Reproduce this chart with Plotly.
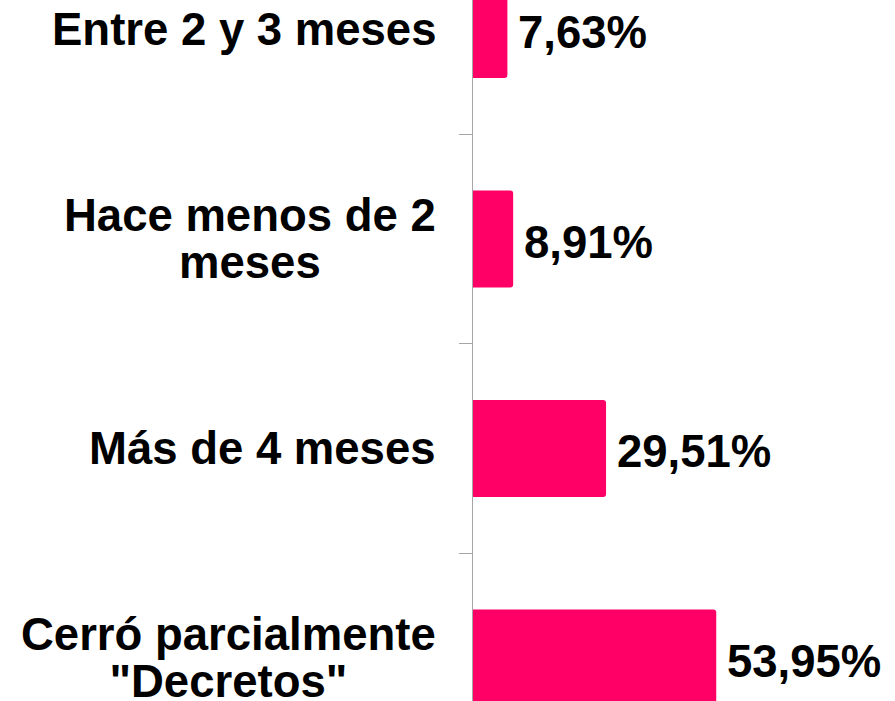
import plotly.graph_objects as go

# Data (bottom to top)
categories = [["Cerró parcialmente", "\"Decretos\""], ["Más de 4 meses"],
              ["Hace menos de 2", "meses"], ["Entre 2 y 3 meses"]]
values = [53.95, 29.51, 8.91, 7.63]
value_labels = ["53,95%", "29,51%", "8,91%", "7,63%"]

BAR_COLOR = "#FF0066"
AXIS_COLOR = "#A6A6A6"
FONT = "Liberation Sans, Arial, sans-serif"
FSIZE = 45.5
LINE_H = 47          # visual line spacing of the wrapped labels

W, H = 895, 701
L = 473
LABEL_X = (438 - L) / (W - L)

fig = go.Figure()
fig.add_trace(go.Bar(
    y=list(range(len(categories))),
    x=values,
    orientation="h",
    marker=dict(color=BAR_COLOR, line=dict(width=0)),
    hoverinfo="x",
))

font = dict(family=FONT, size=FSIZE, color="#000000", weight="bold")
# base size sets the line spacing (1.3 em); each line is drawn at FSIZE
label_font = dict(family=FONT, size=LINE_H / 1.3, color="#000000", weight="bold")
annotations = []
for i, (lines, v, lab) in enumerate(zip(categories, values, value_labels)):
    text = "<br>".join(f"<span style='font-size:{FSIZE}px'>{ln}</span>" for ln in lines)
    annotations.append(dict(
        xref="paper", yref="y", x=LABEL_X, y=i, text=text,
        showarrow=False, xanchor="right", yanchor="middle", align="center",
        font=label_font,
    ))
    annotations.append(dict(
        xref="x", yref="y", x=v, y=i, text=lab, showarrow=False,
        xanchor="left", yanchor="middle", xshift=9, yshift=-3, font=font,
    ))

fig.update_layout(
    width=W, height=H,
    margin=dict(l=L, r=0, t=0, b=0, pad=0),
    paper_bgcolor="white", plot_bgcolor="white",
    showlegend=False,
    bargap=0.537,
    barcornerradius=3,
    annotations=annotations,
    xaxis=dict(visible=False, range=[0, 93.6], fixedrange=True),
    yaxis=dict(
        type="category",
        range=[-0.205, 3.141],
        showline=True, linecolor=AXIS_COLOR, linewidth=1.3,
        ticks="outside", ticklen=13, tickcolor=AXIS_COLOR, tickwidth=1.3,
        tickson="boundaries",
        showticklabels=False, showgrid=False, zeroline=False,
        fixedrange=True,
    ),
)

fig.write_html("out.html", config={"displayModeBar": False},
               post_script="document.body.style.margin='0';document.body.style.padding='0';")
